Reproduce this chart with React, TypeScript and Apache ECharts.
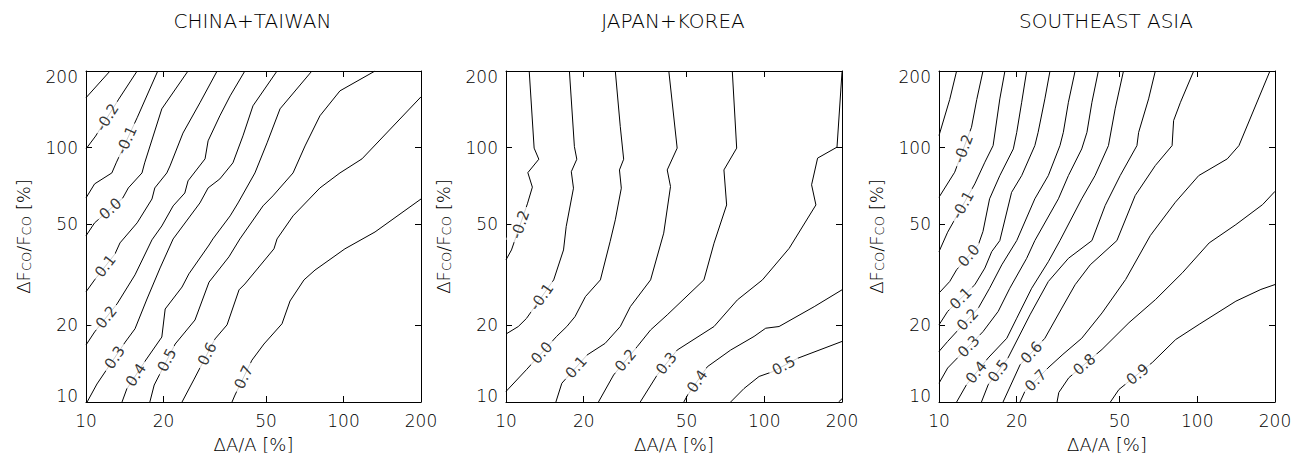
import React, { useEffect, useRef } from 'react';
import * as echarts from 'echarts';

type P = [number, number];

// ---------- axis ticks / titles ----------
const TICKS = [10, 20, 50, 100, 200];
const AXIS_MIN = 10;
const AXIS_MAX = 200;
const TITLES = ['CHINA+TAIWAN', 'JAPAN+KOREA', 'SOUTHEAST ASIA'];
const X_NAME = 'ΔA/A [%]';

// ---------- CHINA+TAIWAN contours (x = ΔA/A %, y = ΔF/F %) ----------
const CT_LEVELS = [-0.3, -0.2, -0.1, 0.0, 0.1, 0.2, 0.3, 0.4, 0.5, 0.6, 0.7];
const CT_M03: P[] = [[10, 157], [12.4, 200]];
const CT_M02: P[] = [[10, 98.8], [10.9, 111], [13.4, 155], [15.8, 200]];
const CT_M01: P[] = [[10, 63.4], [10.8, 72], [12.6, 79.5], [13.1, 87.1], [15.8, 131], [19, 200]];
const CT_P00: P[] = [[10, 45], [10.8, 50.6], [13.9, 63.4], [14.6, 69.4], [16.5, 79.5], [16.9, 87.1], [19.7, 142], [24.9, 200]];
const CT_P01: P[] = [[10, 27.1], [10.8, 30.2], [12.96, 38.2], [13.55, 42.2], [15.8, 50.6], [18.04, 62.8], [18.5, 69.4], [20.6, 79.5], [21.2, 84.7], [23.8, 114], [27.7, 150], [32.3, 200]];
const CT_P02: P[] = [[10, 16.75], [10.8, 18.85], [13.2, 24.3], [15.5, 31.6], [18.04, 43.4], [19.7, 49.2], [21.8, 59], [24.2, 66.3], [24.9, 74], [29, 90.3], [29.8, 106.3], [33.1, 133.3], [36.3, 159.7], [41.4, 200]];
const CT_P03: P[] = [[10.1, 10], [11.03, 11.77], [14.2, 17.2], [15.5, 19.4], [17.25, 25.4], [19.4, 33.65], [21.8, 43.75], [27.7, 60.6], [29.8, 69.4], [33.1, 75.3], [37.2, 87.1], [40.7, 111.2], [44.5, 145.9], [55.2, 200]];
const CT_P04: P[] = [[13.8, 10], [14.4, 11.25], [16.9, 14.4], [19.7, 18], [20.3, 23.2], [23.6, 28.3], [25.1, 31.9], [30.05, 41.4], [31.1, 43.75], [36.3, 53.9], [38.95, 60.6], [45.3, 79.5], [50.5, 104.4], [56.7, 142], [75.4, 200]];
const CT_P05: P[] = [[17.7, 10], [18.4, 11.66], [22.2, 16.9], [26.5, 21], [30.05, 29.6], [35.9, 37.2], [39.6, 43.75], [48.7, 59], [53.2, 64.6], [63.7, 79.5], [70.9, 101.5], [81, 133.3], [96.9, 167.1], [132.6, 200]];
const CT_P06: P[] = [[23.6, 10], [26.3, 12.3], [31.7, 17.7], [35.3, 20.1], [39.3, 27.6], [41.4, 29.1], [53.7, 40], [55.2, 43.75], [63.7, 53.9], [81, 69.4], [96.9, 79.5], [118, 90.3], [200, 158.3]];
const CT_P07: P[] = [[36.9, 10], [37.9, 10.65], [44.1, 14.6], [49.1, 16.9], [57.7, 20.3], [62, 24.95], [70.25, 30.2], [77.5, 33], [101.3, 40], [132.6, 46.6], [200, 62.8]];
// label anchors: [level, x, y]
const CT_LABELS: number[][] = [[-0.2, 12.17, 130.9], [-0.1, 14.4, 106.7], [0, 12.3, 58.2], [0.1, 11.85, 34.3], [0.2, 12.07, 21.4], [0.3, 12.85, 15.03], [0.4, 15.6, 12.77], [0.5, 20.1, 14.8], [0.6, 29.0, 15.6], [0.7, 40.0, 12.65]];

// ---------- JAPAN+KOREA contours ----------
const JK_LEVELS = [-0.2, -0.1, 0.0, 0.1, 0.2, 0.3, 0.4, 0.5, 0.6];
const JK_M02: P[] = [[12.3, 200], [12.85, 99.5], [13.4, 90], [12.15, 79.7], [12.65, 69.9], [12.1, 60.1], [10.5, 39.6], [10, 36.2]];
const JK_M01: P[] = [[17.6, 200], [18.4, 100.9], [18.8, 90], [17.9, 80.4], [18.25, 69.25], [17.1, 48.9], [16.7, 39.6], [15.3, 30.2], [12, 21.3], [11.16, 19.8], [10, 18.5]];
const JK_P00: P[] = [[26.5, 200], [27.7, 121], [28.55, 90], [27.5, 81.7], [27.96, 69.25], [26.5, 52], [25.3, 42.7], [23.2, 30.2], [20.3, 25.95], [18.5, 21.65], [17.2, 19.8], [15.7, 18.1], [12, 13.4], [10, 11]];
const JK_P01: P[] = [[42.7, 200], [46, 99.5], [42.1, 81.7], [43.35, 70.3], [40.8, 46.1], [36.3, 30.2], [30.3, 23.7], [27.7, 19.8], [24.2, 17], [20.6, 15.3], [16.45, 11.85], [15.6, 10]];
const JK_P02: P[] = [[75.2, 200], [78.2, 99.5], [69.8, 81.7], [71.5, 59.5], [63.9, 42.1], [58.4, 30.2], [42.1, 22], [36.3, 19.2], [32.2, 16.5], [26.1, 12.77], [22.8, 10]];
const JK_P03: P[] = [[33.1, 10], [38.5, 12.77], [46, 16], [63.9, 19.8], [78.7, 25.2], [98.4, 30.2], [124.9, 40.2], [158.5, 59.5], [152.5, 71.4], [160.9, 90.9], [191.3, 100.4], [200, 198]];
const JK_P04: P[] = [[48.8, 10], [50.5, 10.65], [60.2, 13.76], [74.1, 16], [91.3, 18.1], [101.3, 19.5], [114.1, 19.8], [156.1, 23.7], [200, 27.6]];
const JK_P05: P[] = [[74.1, 10], [83.5, 11.3], [95.5, 12.6], [107.6, 13.15], [134.6, 14.85], [200, 17.3]];
const JK_P06: P[] = [[194, 10], [200, 10.3]];
const JK_LABELS: number[][] = [[-0.2, 11.16, 50.1], [-0.1, 13.7, 25.95], [0, 13.7, 15.65], [0.1, 18.7, 13.7], [0.2, 29.2, 14.5], [0.3, 42.1, 14.1], [0.4, 54.7, 12.1], [0.5, 119.1, 13.85]];

// ---------- SOUTHEAST ASIA contours ----------
const SEA_LEVELS = [-0.3, -0.2, -0.1, 0.0, 0.1, 0.2, 0.3, 0.4, 0.5, 0.6, 0.7, 0.8, 0.9];
const SEA_M03: P[] = [[10, 111.5], [11, 154.4], [11.7, 200]];
const SEA_M02: P[] = [[10, 63.8], [11.5, 80], [13.36, 120.2], [14, 154.4], [14.8, 200]];
const SEA_M01: P[] = [[10, 39], [10.8, 46.5], [13.76, 72], [15.05, 87.6], [16.2, 101.8], [17.2, 155.4], [18, 200]];
const SEA_P00: P[] = [[10, 26.8], [11, 29.75], [11.7, 33.1], [14.2, 41.5], [14.8, 46.8], [15.7, 62.9], [17.2, 77.6], [19.4, 98.8], [20, 114.8], [20.9, 150.7], [21.85, 200]];
const SEA_P01: P[] = [[10, 20.1], [10.8, 22.7], [13.76, 28.9], [15.05, 33.6], [16, 39], [17.2, 43.1], [19.1, 66.7], [20.9, 77.6], [23.5, 101.8], [24.2, 114.8], [25.7, 155.4], [26.9, 200]];
const SEA_P02: P[] = [[10, 15.8], [10.8, 17.3], [14.2, 23.4], [15.7, 28], [17.5, 34.6], [20, 43.1], [23.5, 62.9], [26.5, 77.6], [29.4, 101.8], [30.3, 114.8], [31.7, 150.7], [33.65, 200]];
const SEA_P03: P[] = [[10, 11.85], [10.8, 13.6], [14.8, 18.9], [16.95, 22.7], [18.8, 28], [21.85, 36.7], [23.5, 43.1], [29, 62.9], [31.7, 77.6], [35.7, 98.8], [37.4, 114.8], [39.1, 150.7], [41.4, 200]];
const SEA_P04: P[] = [[11.7, 10], [12.77, 11.68], [15.5, 14.9], [18.3, 17.8], [20, 21.35], [22.85, 28], [26.5, 35.6], [29.4, 43.1], [35.7, 62.9], [40.2, 77.6], [45.3, 101.8], [48.1, 142], [51.8, 200]];
const SEA_P05: P[] = [[14.6, 10], [15.5, 11.68], [18.5, 14.9], [22.5, 22], [26.5, 29.75], [31.7, 36.7], [39.1, 43.1], [44, 59.2], [50.3, 77.6], [58.4, 101.8], [59.3, 114.8], [64.8, 155.4], [68.8, 200]];
const SEA_P06: P[] = [[17.7, 10], [20.6, 14], [25.7, 17.8], [29.9, 23.4], [33.65, 28.9], [38.5, 34.6], [48.85, 43.1], [57.5, 64.8], [68.8, 85], [79.9, 101.8], [81, 127.7], [86.1, 150.7], [96.9, 200]];
const SEA_P07: P[] = [[20.6, 10], [21.5, 11], [26.4, 13.6], [30.2, 15.4], [35.7, 17.8], [42.8, 22.4], [52.8, 30.3], [65.8, 45.1], [82.3, 61], [101.3, 77.6], [130.7, 90.3], [145, 101.8], [191.2, 200]];
const SEA_P08: P[] = [[28.65, 10], [29.1, 10.9], [31.8, 12.45], [42.8, 16.1], [54.4, 20.5], [69, 25.3], [87.6, 32.2], [111.2, 42.2], [141.1, 49.8], [179.1, 59.7], [200, 67.3]];
const SEA_P09: P[] = [[46.1, 10], [49.75, 11.2], [67, 14.3], [82.5, 17.6], [101.7, 20.2], [141.1, 24.9], [176.4, 27.7], [200, 28.95]];
const SEA_LABELS: number[][] = [[-0.2, 12.7, 98.2], [-0.1, 12.7, 58.6], [0, 12.9, 38.0], [0.1, 12.3, 25.2], [0.2, 13.25, 20.6], [0.3, 13.3, 16.2], [0.4, 13.97, 13.06], [0.5, 16.97, 13.24], [0.6, 23.0, 15.5], [0.7, 23.7, 12.15], [0.8, 36.9, 13.9], [0.9, 58.6, 12.9]];

const PANELS = [
  { levels: CT_LEVELS, contours: [CT_M03, CT_M02, CT_M01, CT_P00, CT_P01, CT_P02, CT_P03, CT_P04, CT_P05, CT_P06, CT_P07], labels: CT_LABELS },
  { levels: JK_LEVELS, contours: [JK_M02, JK_M01, JK_P00, JK_P01, JK_P02, JK_P03, JK_P04, JK_P05, JK_P06], labels: JK_LABELS },
  { levels: SEA_LEVELS, contours: [SEA_M03, SEA_M02, SEA_M01, SEA_P00, SEA_P01, SEA_P02, SEA_P03, SEA_P04, SEA_P05, SEA_P06, SEA_P07, SEA_P08, SEA_P09], labels: SEA_LABELS },
];

const FONT = "'DejaVu Sans', 'Liberation Sans', sans-serif";
const LW = 200;
const L = (v: number) => Math.log10(v);

export default function App() {
  const ref = useRef<HTMLDivElement>(null);

  useEffect(() => {
    const el = ref.current;
    if (!el) return;
    const chart = echarts.init(el, null, { renderer: 'svg' });

    const grids = [
      { left: 86, top: 71, width: 335, height: 331 },
      { left: 506, top: 71, width: 336, height: 331 },
      { left: 939, top: 71, width: 336, height: 331 },
    ];
    const tickVals = TICKS.map(L);
    const fmt = (v: number) => String(Math.round(Math.pow(10, v)));
    const black = '#000';
    const tickLabel = {
      customValues: tickVals, formatter: fmt, color: black, fontSize: 17,
      fontFamily: FONT, fontWeight: LW, lineHeight: 12,
    };
    const axisBase = {
      type: 'value', min: L(AXIS_MIN), max: L(AXIS_MAX),
      axisLine: { show: true, onZero: false, lineStyle: { color: black, width: 1 } },
      axisTick: { show: true, inside: true, length: 6, customValues: tickVals, lineStyle: { color: black, width: 1 } },
      splitLine: { show: false },
      minorTick: { show: false },
    };

    const xAxis: any[] = [];
    const yAxis: any[] = [];
    grids.forEach((_, g) => {
      xAxis.push({
        ...axisBase, gridIndex: g, position: 'bottom',
        axisLabel: { ...tickLabel, show: true, margin: 13 },
        name: X_NAME, nameLocation: 'middle', nameGap: 28,
        nameTextStyle: { color: black, fontSize: 18, fontFamily: FONT, fontWeight: LW, lineHeight: 20 },
      });
      xAxis.push({ ...axisBase, gridIndex: g, position: 'top', axisLabel: { show: false } });
      yAxis.push({
        ...axisBase, gridIndex: g, position: 'left',
        axisLabel: { ...tickLabel, show: true, margin: 8, verticalAlignMinLabel: 'bottom', verticalAlignMaxLabel: 'top' },
        name: '{a|ΔF}{s|CO}{a|/F}{s|CO}{a| [%]}', nameLocation: 'middle', nameGap: 53,
        nameTextStyle: {
          color: black,
          rich: {
            a: { fontSize: 18, fontFamily: FONT, fontWeight: LW, color: black, lineHeight: 20 },
            s: { fontSize: 13, fontFamily: FONT, fontWeight: LW, color: black, lineHeight: 14, verticalAlign: 'bottom' },
          },
        },
      });
      yAxis.push({ ...axisBase, gridIndex: g, position: 'right', axisLabel: { show: false } });
    });

    const lineSeries: any[] = [];
    const seriesIndexOf: number[][] = [];
    PANELS.forEach((p, g) => {
      seriesIndexOf[g] = [];
      p.contours.forEach((c, k) => {
        seriesIndexOf[g][k] = lineSeries.length;
        lineSeries.push({
          type: 'line', name: `p${g}_${p.levels[k]}`, xAxisIndex: 2 * g, yAxisIndex: 2 * g,
          data: c.map(([x, y]) => [L(x), L(y)]), symbol: 'none', showSymbol: false,
          lineStyle: { color: black, width: 1 }, silent: true, z: 2, clip: true,
        });
      });
    });

    const title = TITLES.map((t, i) => ({
      text: t, left: grids[i].left + grids[i].width / 2 - 1, top: 11, padding: 0, textAlign: 'center',
      textStyle: { color: black, fontSize: 20, fontFamily: FONT, fontWeight: LW, lineHeight: 20 },
    }));

    const base = {
      animation: false, backgroundColor: '#fff',
      title, grid: grids, xAxis, yAxis,
    };
    chart.setOption({ ...base, series: lineSeries });

    // place contour labels on their lines, rotated along the line direction
    const labelSeries: any[] = PANELS.map((p, g) => {
      const items = p.labels.map((lab) => {
        const [lev, lx, ly] = lab;
        const k = p.levels.findIndex((v) => Math.abs(v - lev) < 1e-9);
        const si = seriesIndexOf[g][k];
        const pts = p.contours[k].map(([x, y]) => chart.convertToPixel({ seriesIndex: si }, [L(x), L(y)]) as number[]);
        const q = chart.convertToPixel({ seriesIndex: si }, [L(lx), L(ly)]) as number[];
        const cum = [0];
        for (let i = 1; i < pts.length; i++) cum.push(cum[i - 1] + Math.hypot(pts[i][0] - pts[i - 1][0], pts[i][1] - pts[i - 1][1]));
        let best = { d: Infinity, s: 0 };
        for (let i = 0; i < pts.length - 1; i++) {
          const a = pts[i], b = pts[i + 1];
          const dx = b[0] - a[0], dy = b[1] - a[1];
          const len2 = dx * dx + dy * dy || 1;
          let t = ((q[0] - a[0]) * dx + (q[1] - a[1]) * dy) / len2;
          t = Math.max(0, Math.min(1, t));
          const cx = a[0] + t * dx, cy = a[1] + t * dy;
          const d = (cx - q[0]) ** 2 + (cy - q[1]) ** 2;
          if (d < best.d) best = { d, s: cum[i] + t * Math.sqrt(len2) };
        }
        const at = (s: number) => {
          s = Math.max(0, Math.min(cum[cum.length - 1], s));
          for (let i = 0; i < pts.length - 1; i++) {
            if (s <= cum[i + 1] || i === pts.length - 2) {
              const seg = cum[i + 1] - cum[i] || 1;
              const t = (s - cum[i]) / seg;
              return [pts[i][0] + t * (pts[i + 1][0] - pts[i][0]), pts[i][1] + t * (pts[i + 1][1] - pts[i][1])];
            }
          }
          return pts[pts.length - 1];
        };
        const c = at(best.s);
        const a0 = at(best.s - 13), a1 = at(best.s + 13);
        let ang = Math.atan2(-(a1[1] - a0[1]), a1[0] - a0[0]) * 180 / Math.PI;
        if (ang > 90) ang -= 180;
        if (ang < -90) ang += 180;
        const v = chart.convertFromPixel({ seriesIndex: si }, c) as number[];
        return { name: lev.toFixed(1), value: v, label: { rotate: ang } };
      });
      return {
        type: 'scatter', xAxisIndex: 2 * g, yAxisIndex: 2 * g, silent: true, z: 5,
        symbol: 'circle', symbolSize: 1, itemStyle: { color: 'rgba(0,0,0,0)' },
        data: items,
        label: {
          show: true, position: 'inside', formatter: (pp: any) => pp.name,
          color: black, fontSize: 15, fontFamily: FONT, fontWeight: 'normal',
          backgroundColor: '#fff', padding: [1, 4], lineHeight: 15,
        },
      };
    });

    chart.setOption({ ...base, series: [...lineSeries, ...labelSeries] }, true);

    return () => chart.dispose();
  }, []);

  return <div ref={ref} style={{ position: 'fixed', left: 0, top: 0, width: 1302, height: 460, background: '#fff' }} />;
}
